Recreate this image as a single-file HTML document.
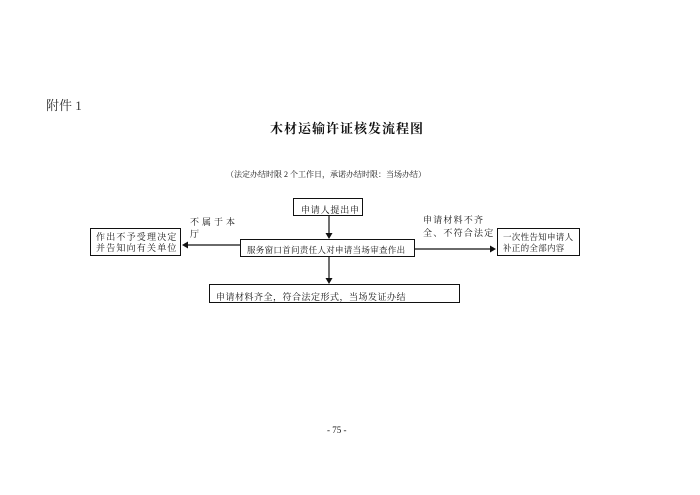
<!DOCTYPE html>
<html><head><meta charset="utf-8"><style>
body{margin:0;width:700px;height:495px;background:#fff;position:relative;overflow:hidden;font-family:"Liberation Serif","Noto Serif CJK SC","Noto Sans CJK SC",serif;color:#111}
.t{position:absolute;white-space:nowrap;line-height:1}
.b{position:absolute;border:1.3px solid #111;box-sizing:border-box;font-size:9px;letter-spacing:1px;white-space:nowrap;overflow:hidden}
</style></head><body>
<div class="t" style="left:46px;top:99px;font-size:13px;color:#333">附件 1</div>
<div class="t" style="left:270px;top:122px;font-size:13px;font-weight:bold;letter-spacing:1px">木材运输许证核发流程图</div>
<div class="t" style="left:226px;top:171px;font-size:8px">（法定办结时限 2 个工作日，承诺办结时限：当场办结）</div>
<div class="b" style="left:293px;top:198px;width:70px;height:18px;padding:4px 0 0 7px;letter-spacing:0.8px">申请人提出申</div>
<div class="b" style="left:90px;top:228px;width:91px;height:28px;padding:3px 0 0 5px;line-height:11px;letter-spacing:1.2px">作出不予受理决定<br>并告知向有关单位</div>
<div class="b" style="left:240px;top:239px;width:175px;height:18px;padding:4px 0 0 6px;font-size:8.5px;letter-spacing:0.3px">服务窗口首问责任人对申请当场审查作出</div>
<div class="b" style="left:497px;top:228px;width:83px;height:28px;padding:3px 0 0 5px;line-height:11px;font-size:8.5px;letter-spacing:0.3px">一次性告知申请人<br>补正的全部内容</div>
<div class="b" style="left:209px;top:284px;width:251px;height:19px;padding:5px 0 0 6px;letter-spacing:0.5px">申请材料齐全，符合法定形式，当场发证办结</div>
<div class="t" style="left:190px;top:216px;font-size:9px;letter-spacing:3px;line-height:12px">不属于本<br>厅</div>
<div class="t" style="left:423px;top:214px;font-size:9px;letter-spacing:1.2px;line-height:13px">申请材料不齐<br>全、不符合法定</div>
<div class="t" style="left:327px;top:426px;font-size:9px">- 75 -</div>
<svg width="700" height="495" style="position:absolute;left:0;top:0">
<g stroke="#111" stroke-width="1.2" fill="#111">
<line x1="329" y1="216" x2="329" y2="234"/><polygon points="325.5,233 332.5,233 329,239" stroke="none"/>
<line x1="329" y1="257" x2="329" y2="279"/><polygon points="325.5,278 332.5,278 329,284" stroke="none"/>
<line x1="240" y1="245" x2="187" y2="245"/><polygon points="188,241.5 188,248.5 182,245" stroke="none"/>
<line x1="415" y1="249" x2="491" y2="249"/><polygon points="490,245.5 490,252.5 496,249" stroke="none"/>
</g></svg>
</body></html>
